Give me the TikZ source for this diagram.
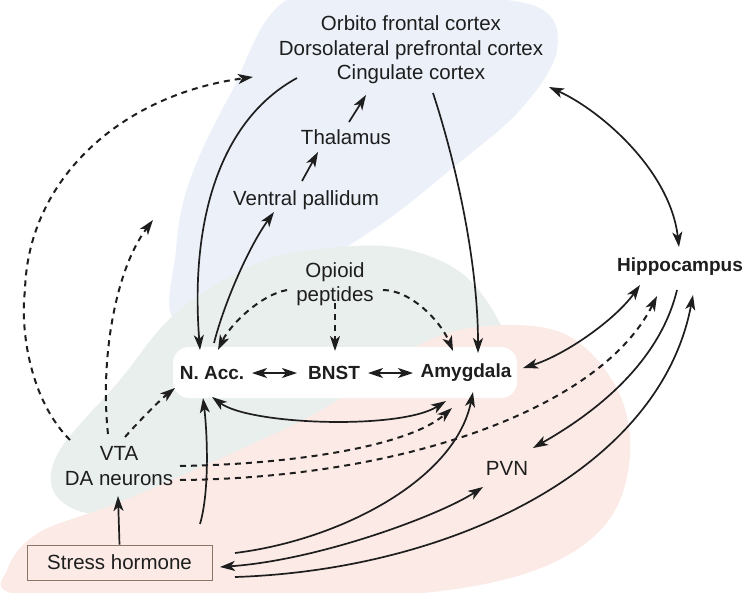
\documentclass[tikz,border=0pt]{standalone}
\usepackage{fontspec}
\setmainfont{Liberation Sans}
\usetikzlibrary{calc,arrows.meta}
\definecolor{bgblue}{RGB}{235,240,249}
\definecolor{bggreen}{RGB}{232,239,237}
\definecolor{bgpink}{RGB}{251,234,230}
\definecolor{ink}{RGB}{30,30,30}
\definecolor{boxline}{RGB}{140,116,104}
\tikzset{
  lbl/.style={text=ink,inner sep=0pt,align=center,font=\fontsize{20.5}{24.5}\selectfont},
  blbl/.style={text=ink,inner sep=0pt,align=center,font=\fontsize{19}{23}\selectfont\bfseries},
  conn/.style={draw=ink,line width=1.7pt},
  ar/.style={conn,-{Stealth[length=15pt,width=10pt,inset=4pt]}},
  dar/.style={conn,{Stealth[length=15pt,width=10pt,inset=4pt]}-{Stealth[length=15pt,width=10pt,inset=4pt]}},
  dsh/.style={conn,line width=2pt,dash pattern=on 6pt off 5pt,-{Stealth[length=15pt,width=10pt,inset=4pt]}},
}
\begin{document}
\begin{tikzpicture}[x=1pt,y=-1pt]
\path[use as bounding box,fill=white] (0,0) rectangle (747,592);
% background regions
\begin{scope}
\clip (0,0) rectangle (747,592);
\fill[bgblue] plot[smooth cycle,tension=0.6] coordinates {(290,-2) (420,-4) (535,6) (557,50) (520,110) (450,170) (380,225) (300,272) (180,322) (176,250) (190,180) (230,95)};
\fill[bggreen] plot[smooth cycle,tension=0.6] coordinates {(57,455) (120,380) (177,312) (260,262) (330,248) (400,248) (460,272) (497,318) (505,360) (420,430) (250,490) (120,515) (60,500)};
\fill[bgpink] plot[smooth cycle,tension=0.6] coordinates {(8,568) (40,532) (120,502) (250,445) (330,405) (400,355) (470,328) (560,332) (615,385) (630,455) (605,525) (530,572) (400,595) (200,598) (20,595)};
\end{scope}
\fill[white,rounded corners=16pt] (173,347) rectangle (517,398);
% nodes
\node[lbl] (cortex) at (411,50) {Orbito frontal cortex\\Dorsolateral prefrontal cortex\\Cingulate cortex};
\node[lbl] (thal) at (346,137) {Thalamus};
\node[lbl] (vp) at (306,200) {Ventral pallidum};
\node[lbl] (opioid) at (335,284) {Opioid\\peptides};
\node[blbl] (nacc) at (212,373) {N. Acc.};
\node[blbl] (bnst) at (334,373) {BNST};
\node[blbl] (amyg) at (466,373) {Amygdala};
\node[blbl] (hippo) at (680,267) {Hippocampus};
\node[lbl] (vta) at (119,466) {VTA\\DA neurons};
\node[lbl] (pvn) at (507,468) {PVN};
\node[lbl,draw=boxline,line width=0.8pt,fill=bgpink,minimum width=185pt,minimum height=35pt] (stress) at (119.5,562.5) {Stress hormone};
\coordinate (vtaup) at (153,220);
% solid connectors
\draw[ar] ($(cortex)+(-114,28)$) .. controls (220,120) and (190,220) .. ($(nacc)+(-12,-23)$);
\draw[ar] ($(nacc)+(2,-30)$) .. controls (225,300) and (250,245) .. ($(vp)+(-32,12)$);
\draw[ar] ($(vp)+(-4,-19)$) -- ($(thal)+(-28,15)$);
\draw[ar] ($(thal)+(3,-15)$) -- ($(cortex)+(-45,45)$);
\draw[ar] ($(cortex)+(22,43)$) .. controls (455,160) and (478,260) .. ($(amyg)+(12,-20)$);
\draw[dar] ($(cortex)+(138,37)$) .. controls (600,110) and (670,170) .. ($(hippo)+(-1,-20)$);
\draw[dar] ($(nacc)+(40,0)$) -- ($(bnst)+(-37,0)$);
\draw[dar] ($(bnst)+(34,0)$) -- ($(amyg)+(-53,0)$);
\draw[dar] ($(amyg)+(57,-5)$) .. controls (565,355) and (615,320) .. ($(hippo)+(-40,18)$);
\draw[dar] ($(nacc)+(0,24)$) .. controls (250,425) and (400,430) .. ($(amyg)+(-20,28)$);
\draw[ar] ($(stress)+(80.5,-38.5)$) .. controls (210,490) and (207,430) .. ($(nacc)+(-9,25)$);
\draw[ar] (stress.north) -- ($(vta)+(-1,30)$);
\draw[ar] ($(stress)+(115.5,-9.5)$) .. controls (340,540) and (455,480) .. ($(amyg)+(7,19)$);
\draw[dar] ($(stress)+(100.5,4.5)$) .. controls (320,560) and (440,515) .. ($(pvn)+(-24,19)$);
\draw[ar] ($(stress)+(115.5,14.5)$) .. controls (450,570) and (660,470) .. ($(hippo)+(13,28)$);
\draw[ar] ($(hippo)+(-3,23)$) .. controls (660,360) and (600,410) .. ($(pvn)+(26,-20)$);
% dashed connectors
\draw[dsh] ($(opioid)+(-48,6)$) .. controls (260,295) and (230,325) .. ($(nacc)+(6,-23)$);
\draw[dsh] ($(opioid)+(0,19)$) -- ($(bnst)+(1,-22)$);
\draw[dsh] ($(opioid)+(48,6)$) .. controls (410,290) and (440,320) .. ($(amyg)+(-13,-22)$);
\draw[dsh] ($(vta)+(61,0)$) .. controls (300,464) and (410,445) .. ($(amyg)+(-14,35)$);
\draw[dsh] ($(vta)+(61,14)$) .. controls (400,478) and (600,410) .. ($(hippo)+(-23,29)$);
\draw[dsh] ($(vta)+(6,-29)$) .. controls (140,420) and (160,400) .. ($(nacc)+(-37,15)$);
\draw[dsh] ($(vta)+(-11,-32)$) .. controls (100,360) and (115,270) .. (vtaup);
\draw[dsh] ($(vta)+(-49,-26)$) .. controls (30,400) and (20,330) .. (25,290) .. controls (28,180) and (120,95) .. ($(cortex)+(-158,27)$);
\end{tikzpicture}
\end{document}
